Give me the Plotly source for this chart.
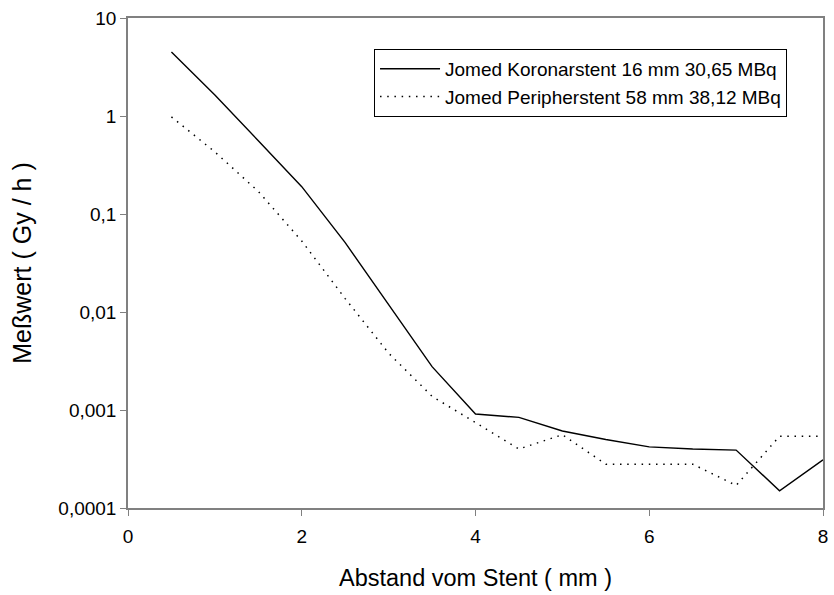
import plotly.graph_objects as go

# Distance from the stent surface (mm)
distance_mm = [0.5, 1.0, 1.5, 2.0, 2.5, 3.0, 3.5, 4.0, 4.5, 5.0, 5.5, 6.0, 6.5, 7.0, 7.5, 8.0]

# Measured dose rate (Gy/h)
koronar_16mm = [4.5, 1.64, 0.56, 0.19, 0.051, 0.0118, 0.00277, 0.00091, 0.00084, 0.00061,
                0.0005, 0.00042, 0.0004, 0.00039, 0.00015, 0.00031]
peripher_58mm = [0.98, 0.43, 0.17, 0.053, 0.0137, 0.0038, 0.00138, 0.00074, 0.0004, 0.00056,
                 0.00028, 0.00028, 0.00028, 0.00017, 0.00054, 0.00054]

series_names = ["Jomed Koronarstent 16 mm 30,65 MBq", "Jomed Peripherstent 58 mm 38,12 MBq"]

y_tick_vals = [0.0001, 0.001, 0.01, 0.1, 1, 10]
y_tick_text = ["0,0001", "0,001", "0,01", "0,1", "1", "10"]
x_tick_vals = [0, 2, 4, 6, 8]

font_family = "Liberation Sans, Arial, sans-serif"

fig = go.Figure()
fig.add_trace(go.Scatter(
    x=distance_mm, y=koronar_16mm, mode="lines", name=series_names[0],
    line=dict(color="black", width=1.4),
))
fig.add_trace(go.Scatter(
    x=distance_mm, y=peripher_58mm, mode="lines", name=series_names[1],
    line=dict(color="black", width=1.5, dash="1.5px,5.7px"),
))

fig.update_layout(
    width=834, height=595,
    margin=dict(l=128, r=6, t=18, b=87),
    paper_bgcolor="white", plot_bgcolor="white",
    font=dict(family=font_family, size=19, color="black"),
    showlegend=True,
    legend=dict(
        x=0.354, y=0.937, xanchor="left", yanchor="top",
        bordercolor="black", borderwidth=1, bgcolor="white",
        font=dict(size=19, family=font_family),
        itemwidth=60, entrywidth=360, tracegroupgap=0,
    ),
    xaxis=dict(
        range=[0, 8], tickvals=x_tick_vals, ticks="outside", ticklen=6,
        tickcolor="#808080", showgrid=False, zeroline=False,
        showline=True, linecolor="#808080", linewidth=1.5, mirror=True,
        tickfont=dict(size=19), ticklabelstandoff=4,
        title=dict(text="Abstand vom Stent ( mm )", font=dict(size=23.5), standoff=24),
    ),
    yaxis=dict(
        type="log", range=[-4, 1], tickvals=y_tick_vals, ticktext=y_tick_text,
        ticks="outside", ticklen=6, tickcolor="#808080", showgrid=False, zeroline=False,
        showline=True, linecolor="#808080", linewidth=1.5, mirror=True,
        tickfont=dict(size=19),
        title=dict(text="Meßwert ( Gy / h )", font=dict(size=25), standoff=20),
    ),
)

fig.write_html("out.html")
